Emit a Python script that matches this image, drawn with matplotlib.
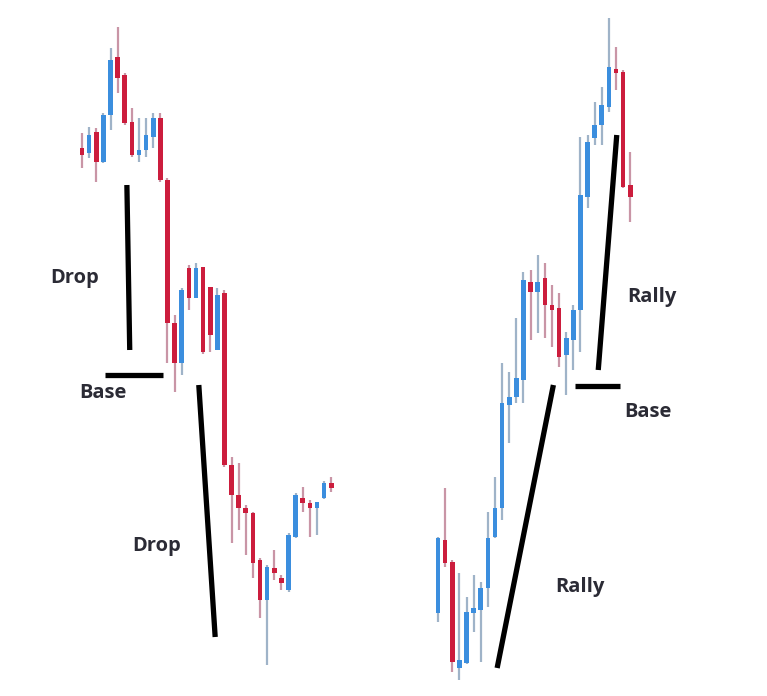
import matplotlib.pyplot as plt

# candle slot index and OHLC prices (price units: higher = up)
left_idx = list(range(0, 36))
left_open = [548, 543, 564, 534, 581, 639, 621, 574, 541, 546, 559, 578, 516, 373, 333, 428, 398, 429, 409, 346, 403, 231, 201, 188, 183, 136, 96, 128, 118, 106, 159, 198, 193, 188, 198, 213]
left_close = [541, 561, 534, 581, 636, 618, 573, 541, 546, 561, 578, 516, 373, 333, 406, 398, 428, 344, 361, 401, 231, 201, 188, 183, 133, 96, 129, 123, 113, 161, 201, 193, 188, 194, 213, 208]
left_high = [563, 569, 568, 583, 648, 669, 623, 588, 578, 578, 583, 583, 518, 381, 408, 431, 433, 411, 376, 408, 406, 239, 233, 191, 184, 138, 131, 146, 121, 163, 203, 209, 196, 194, 215, 219]
left_low = [528, 538, 514, 533, 566, 603, 571, 539, 534, 539, 548, 514, 333, 304, 321, 386, 398, 342, 344, 358, 229, 153, 166, 141, 118, 78, 31, 116, 106, 104, 158, 184, 159, 161, 197, 204]

right_idx = list(range(50, 78))
right_open = [83, 156, 134, 28, 33, 83, 86, 108, 159, 188, 291, 299, 316, 414, 404, 418, 391, 388, 341, 356, 386, 499, 558, 571, 589, 626, 624, 511]
right_close = [158, 133, 34, 36, 84, 88, 108, 158, 188, 293, 299, 318, 416, 404, 414, 391, 386, 339, 358, 386, 501, 554, 571, 591, 629, 623, 509, 499]
right_high = [159, 208, 136, 123, 99, 121, 114, 184, 219, 333, 324, 378, 424, 426, 441, 433, 411, 403, 364, 391, 559, 561, 594, 609, 678, 649, 626, 544]
right_low = [74, 129, 24, 16, 32, 64, 34, 89, 158, 176, 253, 293, 293, 356, 363, 358, 349, 329, 301, 326, 344, 488, 551, 551, 584, 606, 508, 474]

# annotation lines: (x0, y0, x1, y1) in slot / price units
guide_lines = [
    (6.3, 511, 6.7, 346),
    (3.2, 321, 11.4, 321),
    (16.4, 311, 18.7, 59),
    (58.3, 28, 66.2, 311),
    (69.2, 310, 75.6, 310),
    (72.5, 326, 75.1, 561),
]
label_text = ["Drop", "Base", "Drop", "Rally", "Rally", "Base"]
label_x = [-1.0, 3.0, 10.5, 69.9, 80.1, 79.5]
label_y = [418, 303, 150, 109, 399, 284]

BLUE = "#3b8ede"
RED = "#cc1d3d"
BLUE_WICK = "#9fb3c8"
RED_WICK = "#c995a6"


def draw_candles(ax, idx, o, c, h, l):
    for i in range(len(idx)):
        up = c[i] >= o[i]
        ax.vlines(idx[i], l[i], h[i], color=BLUE_WICK if up else RED_WICK,
                  linewidth=1.6, zorder=1)
        bottom = min(o[i], c[i])
        height = max(abs(c[i] - o[i]), 4)
        ax.bar(idx[i], height, bottom=bottom, width=0.65,
               color=BLUE if up else RED, linewidth=0, zorder=2)


fig = plt.figure(figsize=(7.67, 6.96), dpi=100)
ax = fig.add_axes([0, 0, 1, 1])

draw_candles(ax, left_idx, left_open, left_close, left_high, left_low)
draw_candles(ax, right_idx, right_open, right_close, right_high, right_low)

for x0, y0, x1, y1 in guide_lines:
    ax.plot([x0, x1], [y0, y1], color="black", linewidth=3.8,
            solid_capstyle="butt", zorder=3)

for t, x, y in zip(label_text, label_x, label_y):
    ax.text(x, y, t, ha="center", va="center", fontsize=14.5,
            fontweight="bold", family="Open Sans", color="#2b2b35")

ax.set_xlim(-11.52, 96.2)
ax.set_ylim(0, 696)
ax.axis("off")

fig.savefig("out.png", dpi=100, facecolor="white")
